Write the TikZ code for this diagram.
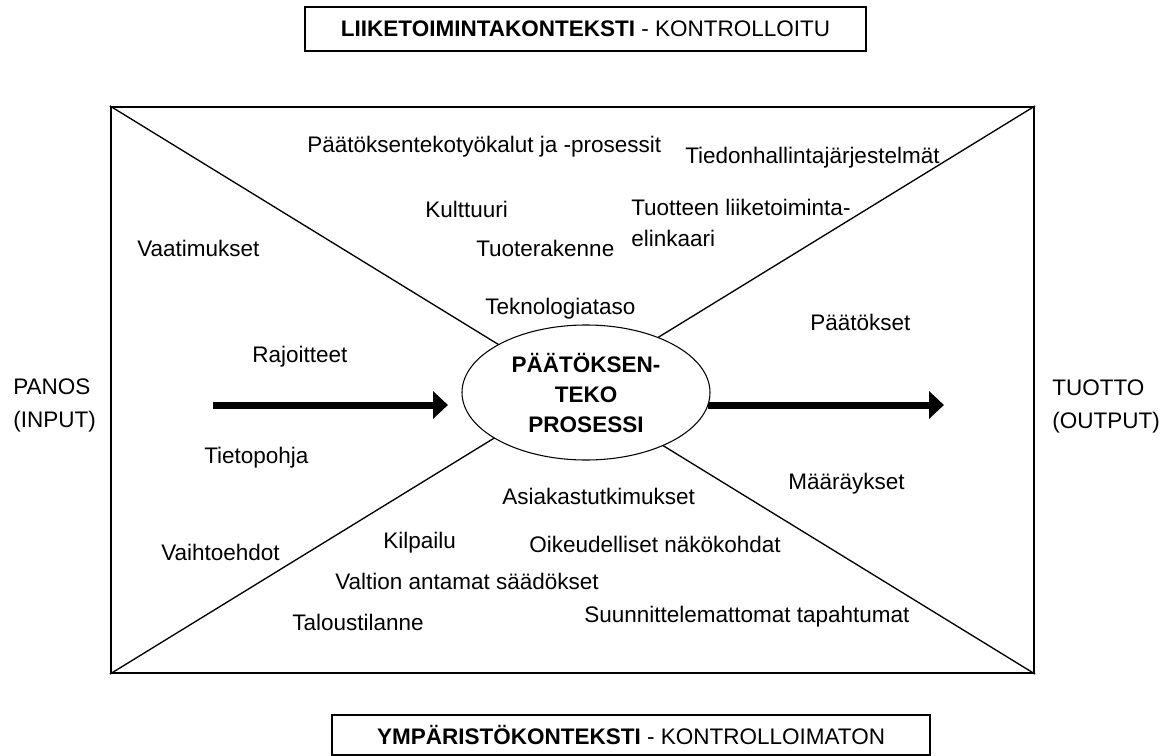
\documentclass[tikz,border=0pt]{standalone}
\usepackage{fontspec}
\setmainfont{Liberation Sans}
\usetikzlibrary{arrows.meta,shapes.geometric}
\begin{document}
\begin{tikzpicture}[x=0.75pt,y=-0.75pt,
  lbl/.style={font=\fontsize{16.875}{23.25}\selectfont, inner sep=0pt, anchor=base west},
  mlbl/.style={font=\fontsize{16.875}{24.75}\selectfont, inner sep=0pt, anchor=north west, align=left},
  diag/.style={line width=1pt},
  ctxbox/.style={draw, line width=1pt, inner sep=0pt, font=\fontsize{16.875}{20}\selectfont},
  bigarrow/.style={line width=5.25pt, -{Triangle[length=11.25pt,width=20.25pt]}}]
\path[fill=white] (0,0) rectangle (1170,756);
\useasboundingbox (0,0) rectangle (1170,756);

% context boxes
\node[ctxbox, minimum width=420.75pt, minimum height=33pt] (top) at (585.5,29)
  {\textbf{LIIKETOIMINTAKONTEKSTI} - KONTROLLOITU};
\node[ctxbox, minimum width=448.5pt, minimum height=30pt] (bot) at (631,735)
  {\textbf{YMPÄRISTÖKONTEKSTI} - KONTROLLOIMATON};

% main frame
\node[draw, line width=1.6pt, minimum width=692.25pt, minimum height=424.5pt, inner sep=0pt] (frame) at (572.5,390) {};
\draw[diag] (frame.north west) -- (frame.center);
\draw[diag] (frame.north east) -- (frame.center);
\draw[diag] (frame.south west) -- (frame.center);
\draw[diag] (frame.south east) -- (frame.center);

% central ellipse
\node[ellipse, draw, fill=white, line width=0.8pt, minimum width=186pt, minimum height=101.25pt,
      inner sep=0pt, align=center, font=\bfseries\fontsize{16.875}{22.5}\selectfont]
  (ell) at (586,392.5) {PÄÄTÖKSEN-\\TEKO\\PROSESSI};

% arrows
\coordinate (inS) at (213,405);
\coordinate (inE) at (448,405);
\coordinate (outS) at (708,405);
\coordinate (outE) at (944,405);
\draw[bigarrow] (inS) -- (inE);
\draw[bigarrow] (outS) -- (outE);

% side labels
\node[mlbl] (panos) at (13,379) {PANOS\\(INPUT)};
\node[mlbl] (tuotto) at (1052,380) {TUOTTO\\(OUTPUT)};

% upper labels
\node[lbl] (t1) at (307,153) {Päätöksentekotyökalut ja -prosessit};
\node[lbl] (t2) at (685,164) {Tiedonhallintajärjestelmät};
\node[lbl] (t3) at (425,217) {Kulttuuri};
\node[mlbl, font=\fontsize{16.875}{23.25}\selectfont] (t4) at (631,199) {Tuotteen liiketoiminta-\\elinkaari};
\node[lbl] (t5) at (137,256) {Vaatimukset};
\node[lbl] (t6) at (476,256) {Tuoterakenne};
\node[lbl] (t7) at (485,314) {Teknologiataso};
\node[lbl] (t8) at (810,330) {Päätökset};
\node[lbl] (t9) at (252,362) {Rajoitteet};

% lower labels
\node[lbl] (b1) at (204,463) {Tietopohja};
\node[lbl] (b2) at (788,489) {Määräykset};
\node[lbl] (b3) at (502,504) {Asiakastutkimukset};
\node[lbl] (b4) at (383,548) {Kilpailu};
\node[lbl] (b5) at (529,552) {Oikeudelliset näkökohdat};
\node[lbl] (b6) at (161,560) {Vaihtoehdot};
\node[lbl] (b7) at (335,589) {Valtion antamat säädökset};
\node[lbl] (b8) at (584,622) {Suunnittelemattomat tapahtumat};
\node[lbl] (b9) at (292,630) {Taloustilanne};
\end{tikzpicture}
\end{document}
